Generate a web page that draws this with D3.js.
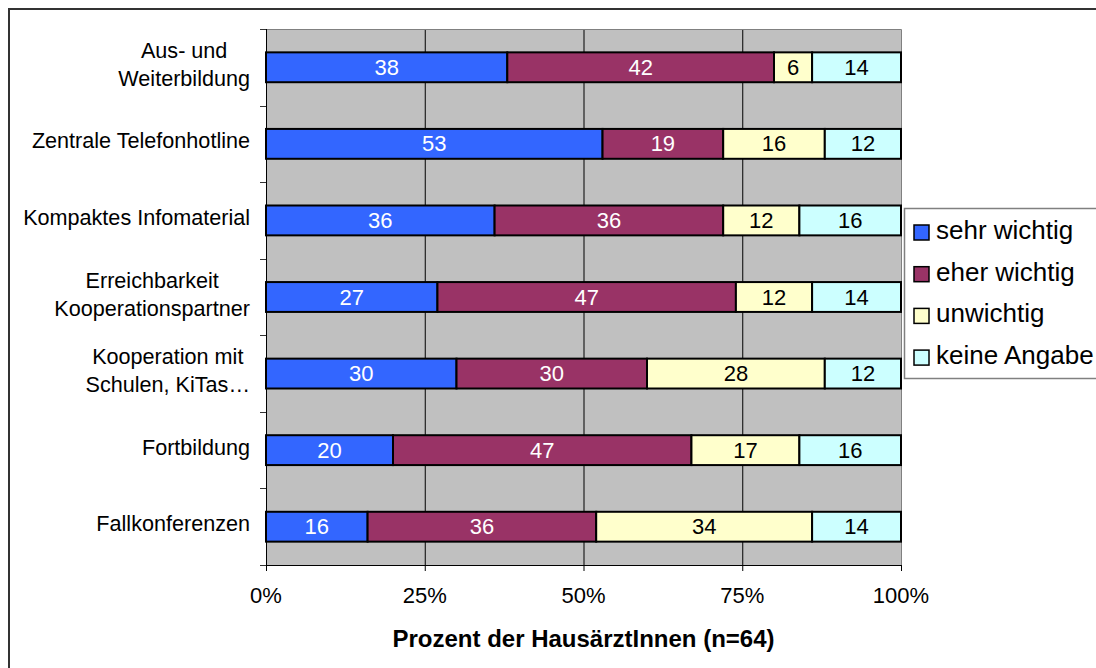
<!DOCTYPE html>
<html lang="de">
<head>
  <meta charset="UTF-8" />
  <title>Prozent der HausärztInnen</title>
  <style>
    body { margin: 0; background: #fff; font-family: "Liberation Sans", Arial, sans-serif; }
    svg { display: block; }
    .cat { font-size: 21.6px; fill: #000; }
    .val { font-size: 22px; }
    .tick-label { font-size: 22px; }
    .legend-text { font-size: 26px; }
    .axis-title { font-size: 24px; font-weight: bold; }
  </style>
</head>
<body>
<svg id="chart" width="1096" height="668"></svg>
<script src="https://d3js.org/d3.v7.min.js"></script>
<script>
  const categories = ["Aus- und\nWeiterbildung", "Zentrale Telefonhotline", "Kompaktes Infomaterial",
    "Erreichbarkeit\nKooperationspartner", "Kooperation mit\nSchulen, KiTas…", "Fortbildung", "Fallkonferenzen"];
  const seriesNames = ["sehr wichtig", "eher wichtig", "unwichtig", "keine Angabe"];
  const sehrWichtig = [38, 53, 36, 27, 30, 20, 16];
  const eherWichtig = [42, 19, 36, 47, 30, 47, 36];
  const unwichtig = [6, 16, 12, 12, 28, 17, 34];
  const keineAngabe = [14, 12, 16, 14, 12, 16, 14];
  const xTicks = [0, 25, 50, 75, 100];

  const colors = ["#3366FF", "#993366", "#FFFFCC", "#CCFFFF"];
  const textColors = ["#fff", "#fff", "#000", "#000"];

  const rows = categories.map((c, i) => ({
    cat: c,
    "sehr wichtig": sehrWichtig[i],
    "eher wichtig": eherWichtig[i],
    "unwichtig": unwichtig[i],
    "keine Angabe": keineAngabe[i]
  }));

  const svg = d3.select("#chart");
  const plot = { left: 266, right: 901, top: 29, bottom: 565 };

  // outer frame
  svg.append("rect")
    .attr("x", 9).attr("y", 9).attr("width", 1200).attr("height", 800)
    .attr("fill", "none").attr("stroke", "#333").attr("stroke-width", 2);

  const x = d3.scaleLinear().domain([0, 100]).range([plot.left, plot.right]);
  const y = d3.scaleBand().domain(categories).range([plot.top, plot.bottom])
    .paddingInner(0.61).paddingOuter(0.305);

  // plot background
  svg.append("rect")
    .attr("x", plot.left).attr("y", plot.top)
    .attr("width", plot.right - plot.left).attr("height", plot.bottom - plot.top)
    .attr("fill", "#C0C0C0");

  // gridlines
  svg.append("g").selectAll("line")
    .data(xTicks.filter(t => t > 0 && t < 100))
    .join("line")
    .attr("x1", d => x(d) + 0.5).attr("x2", d => x(d) + 0.5)
    .attr("y1", plot.top).attr("y2", plot.bottom)
    .attr("stroke", "#000").attr("stroke-width", 1);

  // top / right border of plot area
  svg.append("path")
    .attr("d", `M${plot.left},${plot.top + 0.5}H${plot.right + 0.5}V${plot.bottom}`)
    .attr("fill", "none").attr("stroke", "#808080").attr("stroke-width", 1);

  const stack = d3.stack().keys(seriesNames);
  const stacked = stack(rows);

  const layer = svg.append("g").selectAll("g")
    .data(stacked)
    .join("g");

  layer.selectAll("rect")
    .data(d => d.map(v => ({ v, key: d.key, idx: d.index })))
    .join("rect")
    .attr("x", d => x(d.v[0]))
    .attr("y", d => y(d.v.data.cat))
    .attr("width", d => x(d.v[1]) - x(d.v[0]))
    .attr("height", y.bandwidth())
    .attr("fill", d => colors[d.idx])
    .attr("stroke", "#000")
    .attr("stroke-width", 2);

  layer.selectAll("text")
    .data(d => d.map(v => ({ v, key: d.key, idx: d.index })))
    .join("text")
    .attr("class", "val")
    .attr("x", d => (x(d.v[0]) + x(d.v[1])) / 2)
    .attr("y", d => y(d.v.data.cat) + y.bandwidth() / 2 + 7.5)
    .attr("text-anchor", "middle")
    .attr("fill", d => textColors[d.idx])
    .text(d => d.v[1] - d.v[0]);

  // y axis with ticks at band boundaries
  const bounds = d3.range(categories.length + 1).map(i => plot.top + i * (plot.bottom - plot.top) / categories.length);
  svg.append("line")
    .attr("x1", plot.left + 0.5).attr("x2", plot.left + 0.5)
    .attr("y1", plot.top).attr("y2", plot.bottom)
    .attr("stroke", "#000");
  svg.append("g").selectAll("line")
    .data(bounds)
    .join("line")
    .attr("x1", plot.left - 6).attr("x2", plot.left)
    .attr("y1", d => Math.round(d) + 0.5).attr("y2", d => Math.round(d) + 0.5)
    .attr("stroke", "#333");

  // category labels, multi-line labels centred within a right-aligned block
  const labelRight = 250;
  categories.forEach(c => {
    const lines = c.split("\n");
    const cy = y(c) + y.bandwidth() / 2;
    const t = svg.append("text").attr("class", "cat").attr("text-anchor", "middle");
    const ts = lines.map((ln, i) => t.append("tspan")
      .attr("y", cy + 4.5 + (i - (lines.length - 1) / 2) * 28)
      .text(ln));
    const maxW = d3.max(ts, s => s.node().getComputedTextLength());
    ts.forEach(s => s.attr("x", labelRight - maxW / 2));
  });

  // x axis
  svg.append("line")
    .attr("x1", plot.left).attr("x2", plot.right + 1)
    .attr("y1", plot.bottom + 0.5).attr("y2", plot.bottom + 0.5)
    .attr("stroke", "#000");
  svg.append("g").selectAll("line")
    .data(xTicks)
    .join("line")
    .attr("x1", d => x(d) + 0.5).attr("x2", d => x(d) + 0.5)
    .attr("y1", plot.bottom).attr("y2", plot.bottom + 6)
    .attr("stroke", "#000");
  svg.append("g").selectAll("text")
    .data(xTicks)
    .join("text")
    .attr("class", "tick-label")
    .attr("x", d => x(d))
    .attr("y", 603)
    .attr("text-anchor", "middle")
    .text(d => d + "%");

  svg.append("text")
    .attr("class", "axis-title")
    .attr("x", (plot.left + plot.right) / 2)
    .attr("y", 647)
    .attr("text-anchor", "middle")
    .text("Prozent der HausärztInnen (n=64)");

  // legend
  const legend = svg.append("g");
  legend.append("rect")
    .attr("x", 904.5).attr("y", 208.5).attr("width", 220).attr("height", 170)
    .attr("fill", "#fff").attr("stroke", "#808080").attr("stroke-width", 1.5);
  seriesNames.forEach((s, i) => {
    const yy = 225 + i * 41.7;
    legend.append("rect")
      .attr("x", 914).attr("y", yy).attr("width", 15).attr("height", 15)
      .attr("fill", colors[i]).attr("stroke", "#000").attr("stroke-width", 1.5);
    legend.append("text")
      .attr("class", "legend-text")
      .attr("x", 936).attr("y", yy + 14)
      .text(s);
  });
</script>
</body>
</html>
